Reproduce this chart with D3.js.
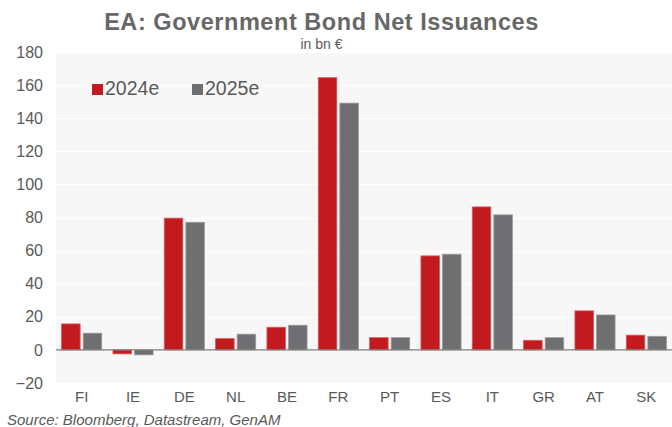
<!DOCTYPE html>
<html>
<head>
<meta charset="utf-8">
<script src="https://cdn.jsdelivr.net/npm/d3@7"></script>
<style>
  html, body { margin: 0; padding: 0; background: #ffffff; }
  svg { display: block; }
  text { font-family: "Liberation Sans", Arial, sans-serif; }
</style>
</head>
<body>
<svg id="chart" width="672" height="427"></svg>
<script>
const categories = ["FI", "IE", "DE", "NL", "BE", "FR", "PT", "ES", "IT", "GR", "AT", "SK"];
const seriesNames = ["2024e", "2025e"];
const values2024 = [15.7, -2.4, 79.6, 6.8, 13.7, 164.5, 7.4, 56.8, 86.4, 5.8, 23.6, 8.9];
const values2025 = [10.1, -3.0, 77.1, 9.5, 14.9, 149.1, 7.4, 57.8, 81.6, 7.4, 21.1, 8.2];
const yTicks = [-20, 0, 20, 40, 60, 80, 100, 120, 140, 160, 180];
const colors = ["#C21B1F", "#6F6F71"];

const seriesValues = [values2024, values2025];
const svg = d3.select("#chart");
const plot = { left: 56, right: 672, top: 52, bottom: 383 };
const textColor = "#595959";

const x0 = d3.scaleBand().domain(categories).range([plot.left, plot.right]).padding(0);
const x1 = d3.scaleBand().domain(seriesNames).range([5.6, x0.bandwidth() - 5.6]).paddingInner(0.14);
const y = d3.scaleLinear().domain([-20, 180]).range([plot.bottom, plot.top]);

// plot background
svg.append("rect")
  .attr("x", plot.left).attr("y", plot.top)
  .attr("width", plot.right - plot.left).attr("height", plot.bottom - plot.top)
  .attr("fill", "#F7F7F7");

// gridlines
svg.append("g").selectAll("line")
  .data(yTicks.filter(t => t !== 0 && t !== -20))
  .join("line")
  .attr("x1", plot.left).attr("x2", plot.right)
  .attr("y1", d => Math.round(y(d)) + 0.5).attr("y2", d => Math.round(y(d)) + 0.5)
  .attr("stroke", "#FFFFFF").attr("stroke-width", 1);

// y axis labels
const yAxis = d3.axisLeft(y).tickValues(yTicks).tickSize(0).tickPadding(0);
const yg = svg.append("g").attr("transform", `translate(${plot.left - 13},0)`).call(yAxis);
yg.select(".domain").remove();
yg.selectAll("text")
  .attr("fill", textColor)
  .style("font-size", "16px")
  .style("font-family", "'Liberation Sans', Arial, sans-serif");

// bars
const groups = svg.append("g").selectAll("g")
  .data(categories)
  .join("g")
  .attr("transform", d => `translate(${x0(d)},0)`);

groups.selectAll("rect")
  .data((c, i) => seriesNames.map((s, j) => ({ s, j, v: seriesValues[j][i] })))
  .join("rect")
  .attr("x", d => x1(d.s))
  .attr("width", x1.bandwidth())
  .attr("y", d => y(Math.max(0, d.v)))
  .attr("height", d => Math.abs(y(d.v) - y(0)))
  .attr("fill", d => colors[d.j])
  .attr("stroke", d => d.j === 0 ? "#D9595C" : "#9A9A9C")
  .attr("stroke-width", 0.8);

// zero line
svg.append("line")
  .attr("x1", plot.left).attr("x2", plot.right)
  .attr("y1", y(0)).attr("y2", y(0))
  .attr("stroke", "#7F7F7F").attr("stroke-width", 1.2);

// x axis labels
const xAxis = d3.axisBottom(x0).tickSize(0).tickPadding(0);
const xg = svg.append("g").attr("transform", `translate(0,${plot.bottom + 8})`).call(xAxis);
xg.select(".domain").remove();
xg.selectAll("text")
  .attr("fill", textColor)
  .attr("dy", "0.71em")
  .style("font-size", "15px")
  .style("font-family", "'Liberation Sans', Arial, sans-serif");

// title
svg.append("text")
  .attr("x", 321.5).attr("y", 29.5)
  .attr("text-anchor", "middle")
  .attr("fill", "#676767")
  .style("font-size", "23.5px").style("font-weight", "bold")
  .style("letter-spacing", "0.55px")
  .text("EA: Government Bond Net Issuances");

svg.append("text")
  .attr("x", 321.5).attr("y", 49)
  .attr("text-anchor", "middle")
  .attr("fill", textColor)
  .style("font-size", "14px")
  .text("in bn €");

// legend
const legendX = [92, 192];
const lg = svg.append("g").selectAll("g")
  .data(seriesNames)
  .join("g")
  .attr("transform", (d, i) => `translate(${legendX[i]},84)`);
lg.append("rect")
  .attr("width", 11).attr("height", 11)
  .attr("fill", (d, i) => colors[i]);
lg.append("text")
  .attr("x", 13).attr("y", 11)
  .attr("fill", textColor)
  .style("font-size", "19.5px")
  .text(d => d);

// source
svg.append("text")
  .attr("x", 7).attr("y", 424.5)
  .attr("fill", textColor)
  .style("font-size", "15px").style("font-style", "italic")
  .text("Source: Bloomberg, Datastream, GenAM");
</script>
</body>
</html>
